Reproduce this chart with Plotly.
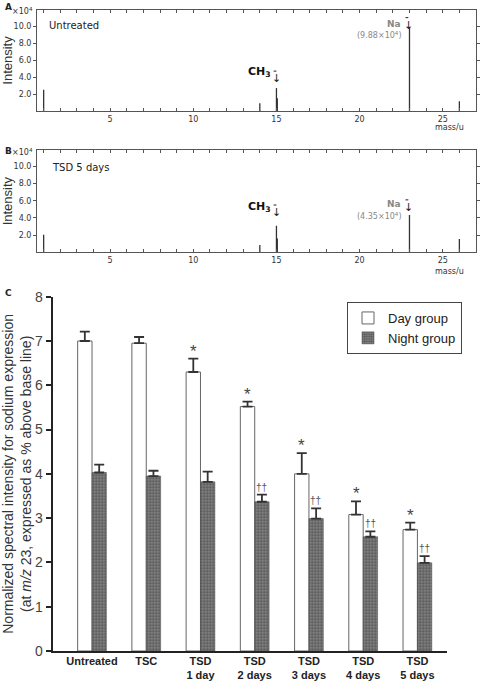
import plotly.graph_objects as go

# ---------------- data ----------------
mass_a = [1, 14, 15, 15.05, 23, 26]
int_a = [2.5, 0.9, 2.7, 1.5, 9.88, 1.15]
mass_b = [1, 14, 15, 15.05, 23, 26]
int_b = [2.05, 0.85, 3.1, 1.6, 4.35, 1.55]

groups = ["Untreated", "TSC", "TSD<br>1 day", "TSD<br>2 days",
          "TSD<br>3 days", "TSD<br>4 days", "TSD<br>5 days"]
day_mean = [7.0, 6.95, 6.3, 5.52, 4.0, 3.08, 2.74]
day_err = [0.21, 0.14, 0.3, 0.11, 0.47, 0.3, 0.16]
night_mean = [4.03, 3.95, 3.82, 3.37, 2.99, 2.58, 1.99]
night_err = [0.18, 0.12, 0.23, 0.16, 0.23, 0.12, 0.15]
day_mark = ["", "", "*", "*", "*", "*", "*"]
night_mark = ["", "", "", "††", "††", "††", "††"]

W, H = 480, 684
VF = "DejaVu Sans"
AF = "Liberation Sans, Arial, sans-serif"


def px_x(p):
    return p / W


def px_y(p):
    return 1 - p / H


def stems(xs, ys):
    X, Y = [], []
    for x, y in zip(xs, ys):
        X += [x, x, None]
        Y += [0, y, None]
    return X, Y


fig = go.Figure()

xa, ya = stems(mass_a, int_a)
fig.add_trace(go.Scatter(x=xa, y=ya, mode="lines", line=dict(color="#333", width=1.3),
                         xaxis="x", yaxis="y", showlegend=False, hoverinfo="skip"))
xb, yb = stems(mass_b, int_b)
fig.add_trace(go.Scatter(x=xb, y=yb, mode="lines", line=dict(color="#333", width=1.3),
                         xaxis="x2", yaxis="y2", showlegend=False, hoverinfo="skip"))

fig.add_trace(go.Bar(
    x=groups, y=day_mean, name="Day group", xaxis="x3", yaxis="y3",
    marker=dict(color="white", line=dict(color="#666", width=1)),
    error_y=dict(type="data", array=day_err, arrayminus=[0] * len(day_err), symmetric=False,
                 color="#333", thickness=1.8, width=5)))
fig.add_trace(go.Bar(
    x=groups, y=night_mean, name="Night group", xaxis="x3", yaxis="y3",
    marker=dict(color="#555", line=dict(color="#444", width=0.5),
                pattern=dict(shape=".", fgcolor="#222", bgcolor="#8a8a8a", size=3, solidity=0.5)),
    error_y=dict(type="data", array=night_err, arrayminus=[0] * len(night_err), symmetric=False,
                 color="#333", thickness=1.8, width=5)))

dom_x_ab = [px_x(37), px_x(476)]
spec_x = dict(range=[0.6, 27], domain=dom_x_ab, showline=True, linecolor="#555", linewidth=1,
              mirror="ticks", ticks="inside", ticklen=3, tickcolor="#555", automargin=False,
              tickvals=[5, 10, 15, 20, 25], showgrid=False, zeroline=False,
              tickfont=dict(family=VF, size=8, color="#333"),
              minor=dict(dtick=1, tick0=0, ticks="inside", ticklen=3, tickcolor="#555", showgrid=False))
spec_y = dict(range=[0, 11.9], showline=True, linecolor="#555", linewidth=1, mirror="ticks",
              ticks="outside", ticklen=3, tickcolor="#555", tickvals=[2, 4, 6, 8, 10],
              tickformat=".1f", showgrid=False, zeroline=False, automargin=False,
              tickfont=dict(family=VF, size=8, color="#333"),
              title=dict(text="Intensity", font=dict(family=AF, size=13, color="#333"), standoff=2))

fig.update_layout(
    width=W, height=H, autosize=False,
    margin=dict(l=0, r=0, t=0, b=0, autoexpand=False),
    paper_bgcolor="white", plot_bgcolor="white",
    barmode="group", bargap=0.47, bargroupgap=0,
    xaxis=dict(spec_x, anchor="y"),
    yaxis=dict(spec_y, domain=[px_y(111), px_y(10)], anchor="x"),
    xaxis2=dict(spec_x, anchor="y2"),
    yaxis2=dict(spec_y, domain=[px_y(252.3), px_y(150)], anchor="x2"),
    xaxis3=dict(domain=[px_x(52.7), px_x(446.7)], anchor="y3", range=[-0.725, 6.54],
                showline=True, linecolor="#222", linewidth=1.5, ticks="", showgrid=False,
                automargin=False, ticklabelstandoff=-1,
                tickfont=dict(family=AF, size=11, color="#222", weight="bold")),
    yaxis3=dict(domain=[px_y(651), px_y(296.7)], anchor="x3", range=[0, 8],
                showline=True, linecolor="#222", linewidth=2, ticks="outside", ticklen=5,
                tickcolor="#222", tickwidth=1.5, dtick=1, showgrid=False, zeroline=False,
                automargin=False,
                tickfont=dict(family=AF, size=14, color="#444"),
                title=dict(text="Normalized spectral intensity for sodium expression<br>"
                                "(at <i>m/z</i> 23, expressed as % above base line)",
                           font=dict(family=AF, size=14, color="#333"), standoff=4)),
    legend=dict(x=px_x(404.5), xanchor="center", y=px_y(302), yanchor="top",
                bordercolor="#444", borderwidth=1, bgcolor="white",
                font=dict(family=AF, size=13, color="#222"), itemwidth=30,
                tracegroupgap=0),
    showlegend=True,
)

ann = []
# panel letters
for t, yy in [("A", 7), ("B", 151), ("C", 293)]:
    ann.append(dict(text=f"<b>{t}</b>", xref="paper", yref="paper", x=px_x(3), y=px_y(yy),
                    xanchor="left", yanchor="middle", showarrow=False,
                    font=dict(family=VF, size=9, color="#222")))
# x10^4 labels
for yy in [11, 152]:
    ann.append(dict(text="×10<sup>4</sup>", xref="paper", yref="paper", x=px_x(35), y=px_y(yy),
                    xanchor="right", yanchor="middle", showarrow=False,
                    font=dict(family=VF, size=8, color="#333")))
# panel titles
ann.append(dict(text="Untreated", xref="paper", yref="paper", x=px_x(47), y=px_y(25),
                xanchor="left", yanchor="middle", showarrow=False, font=dict(family=VF, size=10, color="#222")))
ann.append(dict(text="TSD 5 days", xref="paper", yref="paper", x=px_x(50), y=px_y(167),
                xanchor="left", yanchor="middle", showarrow=False, font=dict(family=VF, size=10, color="#222")))
# mass/u
for yy in [127.5, 271.5]:
    ann.append(dict(text="mass/u", xref="paper", yref="paper", x=px_x(449), y=px_y(yy),
                    xanchor="center", yanchor="middle", showarrow=False, font=dict(family=VF, size=8, color="#333")))

shapes = []
# peak labels with bracket arrows
for xr, yr, ch_y, ch_top, na_y, na_val_y, na_top, na_txt in [
    ("x", "y", 4.6, 4.7, 10.3, 8.95, 11.0, "(9.88×10<sup>4</sup>)"),
    ("x2", "y2", 5.3, 5.5, 5.6, 4.2, 6.1, "(4.35×10<sup>4</sup>)"),
]:
    ann.append(dict(text="<b>CH<sub>3</sub></b>", xref=xr, yref=yr, x=14.8, y=ch_y,
                    xanchor="right", yanchor="middle", showarrow=False,
                    font=dict(family=VF, size=11, color="#111")))
    ann.append(dict(text="↓", xref=xr, yref=yr, x=15, y=ch_top, yshift=1,
                    xanchor="center", yanchor="top", showarrow=False,
                    font=dict(family=VF, size=11, color="#222")))
    ann.append(dict(text="<b>Na</b>", xref=xr, yref=yr, x=22.6, y=na_y,
                    xanchor="right", yanchor="middle", showarrow=False,
                    font=dict(family=VF, size=9, color="#888")))
    ann.append(dict(text=na_txt, xref=xr, yref=yr, x=22.65, y=na_val_y,
                    xanchor="right", yanchor="middle", showarrow=False,
                    font=dict(family=VF, size=8, color="#888")))
    ann.append(dict(text="↓", xref=xr, yref=yr, x=22.93, y=na_top, yshift=1,
                    xanchor="center", yanchor="top", showarrow=False,
                    font=dict(family=VF, size=11, color="#222")))
    shapes.append(dict(type="line", xref=xr, yref=yr, x0=14.83, x1=15.0, y0=ch_top, y1=ch_top,
                       line=dict(color="#222", width=1)))
    shapes.append(dict(type="line", xref=xr, yref=yr, x0=22.76, x1=22.93, y0=na_top, y1=na_top,
                       line=dict(color="#222", width=1)))

# significance marks
for i, (m, v, e) in enumerate(zip(day_mark, day_mean, day_err)):
    if m:
        ann.append(dict(text=m, xref="x3", yref="y3", x=i, y=v + e, xshift=-7, yshift=-4,
                        xanchor="center", yanchor="bottom", showarrow=False,
                        font=dict(family=AF, size=17, color="#444")))
for i, (m, v, e) in enumerate(zip(night_mark, night_mean, night_err)):
    if m:
        ann.append(dict(text=m, xref="x3", yref="y3", x=i, y=v + e, xshift=7, yshift=0,
                        xanchor="center", yanchor="bottom", showarrow=False,
                        font=dict(family=AF, size=10, color="#555")))

fig.update_layout(annotations=ann, shapes=shapes)

fig.write_html("out.html", config=dict(displayModeBar=False),
               post_script="document.body.style.margin='0px';document.body.style.overflow='hidden';")
